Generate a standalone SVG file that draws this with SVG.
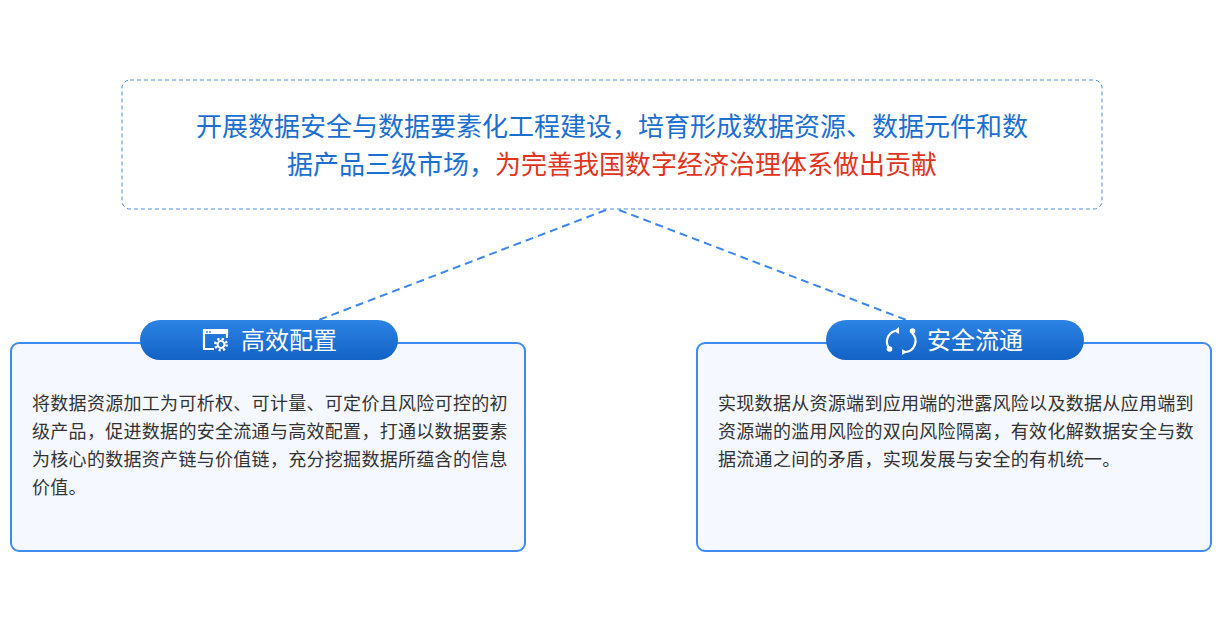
<svg xmlns="http://www.w3.org/2000/svg" width="1223" height="632" viewBox="0 0 1223 632">
<defs>
<style>
.title{font-family:"Noto Sans CJK SC","Noto Sans",sans-serif;font-size:26px;text-anchor:middle}
.blue{fill:#1b6fd0}
.red{fill:#e2341d}
.body{font-family:"Noto Sans CJK SC","Noto Sans",sans-serif;font-size:18px;fill:#333333;letter-spacing:0.3px}
.pilltxt{font-family:"Noto Sans CJK SC","Noto Sans",sans-serif;font-size:24px;fill:#ffffff}
.box{fill:#f5f8ff;stroke:#3f8cf0;stroke-width:2}
.conn{stroke:#3b87ef;stroke-width:2;stroke-dasharray:8 5;fill:none}
.ico{fill:none;stroke:#ffffff;stroke-width:2.2}
</style>
<linearGradient id="pill" x1="0" y1="0" x2="0" y2="1">
<stop offset="0" stop-color="#2c84e4"/>
<stop offset="1" stop-color="#1362c6"/>
</linearGradient>
</defs>
<rect width="1223" height="632" fill="#ffffff"/>
<g id="connectors">
<line class="conn" x1="606" y1="210" x2="316" y2="321"/>
<line class="conn" x1="619" y1="210" x2="909" y2="321"/>
</g>
<g id="top">
<rect x="122" y="80" width="980" height="129" rx="8" fill="#ffffff" stroke="#4a90e2" stroke-width="1" stroke-dasharray="4 3"/>
<text class="title blue" x="612" y="136">开展数据安全与数据要素化工程建设，培育形成数据资源、数据元件和数</text>
<text class="title" x="612" y="174"><tspan class="blue">据产品三级市场，</tspan><tspan class="red">为完善我国数字经济治理体系做出贡献</tspan></text>
</g>
<g id="left">
<rect class="box" x="11" y="343" width="514" height="208" rx="8"/>
<rect x="140" y="320" width="258" height="40" rx="20" fill="url(#pill)"/>
<g id="icon-left">
<path class="ico" d="M214 349 H204 V330 H227 V338"/>
<rect x="204" y="330" width="23" height="4" fill="#ffffff"/>
<circle cx="207" cy="332" r="0.9" fill="#2c84e4"/>
<circle cx="210" cy="332" r="0.9" fill="#2c84e4"/>
<circle cx="221" cy="344.5" r="3.4" fill="none" stroke="#ffffff" stroke-width="2"/>
<circle cx="221" cy="344.5" r="5.6" fill="none" stroke="#ffffff" stroke-width="2.6" stroke-dasharray="2.2 2.2"/>
</g>
<text class="pilltxt" x="241" y="349">高效配置</text>
<text class="body" x="32" y="410">将数据资源加工为可析权、可计量、可定价且风险可控的初</text>
<text class="body" x="32" y="438">级产品，促进数据的安全流通与高效配置，打通以数据要素</text>
<text class="body" x="32" y="466">为核心的数据资产链与价值链，充分挖掘数据所蕴含的信息</text>
<text class="body" x="32" y="494">价值。</text>
</g>
<g id="right">
<rect class="box" x="697" y="343" width="514" height="208" rx="8"/>
<rect x="826" y="320" width="258" height="40" rx="20" fill="url(#pill)"/>
<g id="icon-right">
<path class="ico" d="M895 331 A11 11 0 0 0 889 348"/>
<path class="ico" d="M912 333 A11 11 0 0 1 905 352"/>
<circle cx="889.5" cy="349" r="2.8" fill="#ffffff"/>
<circle cx="912.5" cy="331" r="2.8" fill="#ffffff"/>
<path d="M899 327 L894 331 L899 334 Z" fill="#ffffff"/>
<path d="M902 349 L907 352 L902 355 Z" fill="#ffffff"/>
</g>
<text class="pilltxt" x="927" y="349">安全流通</text>
<text class="body" x="718" y="410">实现数据从资源端到应用端的泄露风险以及数据从应用端到</text>
<text class="body" x="718" y="438">资源端的滥用风险的双向风险隔离，有效化解数据安全与数</text>
<text class="body" x="718" y="466">据流通之间的矛盾，实现发展与安全的有机统一。</text>
</g>
</svg>
